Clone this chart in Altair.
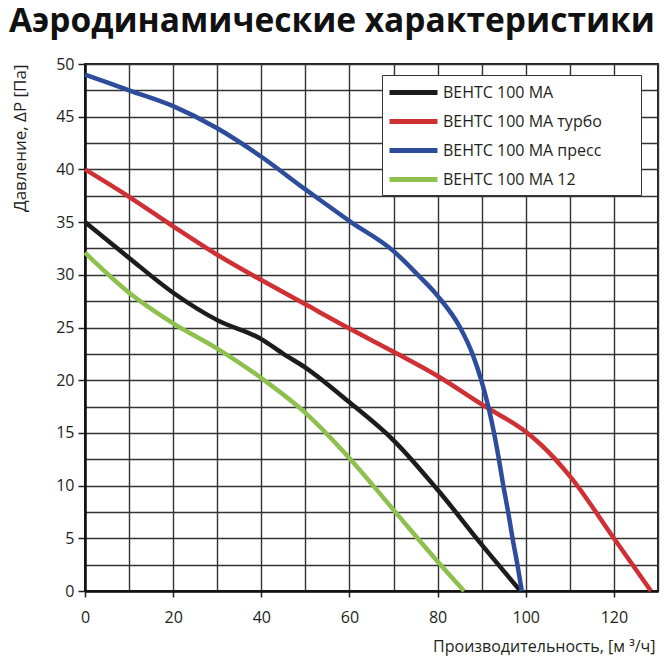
import altair as alt
import pandas as pd

series_names = ["ВЕНТС 100 МА", "ВЕНТС 100 МА турбо", "ВЕНТС 100 МА пресс", "ВЕНТС 100 МА 12"]
series_colors = ["#1c1c1c", "#cf3033", "#2d4d9c", "#8ec04e"]

flow_ma = [0, 10, 20, 30, 40, 45, 50, 60, 70, 80, 90, 98.8]
pres_ma = [35.0, 31.6, 28.3, 25.7, 23.9, 22.5, 21.2, 17.9, 14.3, 9.6, 4.4, 0.0]

flow_turbo = [0, 10, 20, 30, 40, 50, 60, 70, 80, 90, 100, 103.4, 110, 120, 128.4]
pres_turbo = [40.0, 37.4, 34.6, 31.9, 29.5, 27.2, 24.9, 22.7, 20.4, 17.7, 15.1, 13.9, 10.9, 5.0, 0.0]

flow_press = [0, 10, 20, 30, 40, 50, 55, 60, 70, 75.5, 80, 85.1, 87.9, 89.9, 91.5, 92.8, 93.9, 94.9, 96.0, 97.0, 98.1, 99.1]
pres_press = [49.0, 47.5, 46.0, 43.9, 41.2, 38.1, 36.6, 35.1, 32.25, 30.0, 28.0, 25.0, 22.5, 20.0, 17.5, 15.0, 12.5, 10.0, 7.5, 5.0, 2.5, 0.0]

flow_12 = [0, 10, 20, 30, 40, 50, 60, 70, 80, 86]
pres_12 = [32.1, 28.3, 25.4, 23.0, 20.2, 16.9, 12.6, 7.7, 2.8, 0.0]

x_ticks = list(range(0, 131, 10))
y_ticks = [i * 2.5 for i in range(0, 21)]

rows = []
for name, fx, py in zip(series_names,
                        [flow_ma, flow_turbo, flow_press, flow_12],
                        [pres_ma, pres_turbo, pres_press, pres_12]):
    for i, (a, b) in enumerate(zip(fx, py)):
        rows.append({"series": name, "flow": a, "pressure": b, "idx": i})
df = pd.DataFrame(rows)

FONT = "Open Sans"
TXT = "#231f20"

x_axis = alt.Axis(
    values=x_ticks,
    labelExpr="datum.value % 20 === 0 ? datum.label : ''",
    tickOpacity={"condition": {"test": "datum.value % 20 !== 0", "value": 0}, "value": 1},
    labelFlush=False, labelOverlap=False,
    labelFont=FONT, labelFontSize=16, labelColor=TXT, labelPadding=12,
    tickSize=6, tickWidth=1.5, tickColor=TXT,
    grid=True, gridColor="#333333", gridWidth=1.4, gridOpacity=1,
    domainColor="#111111", domainWidth=2.5,
    title="Производительность, [м ³/ч]",
    titleFont=FONT, titleFontSize=16, titleFontWeight="normal", titleColor=TXT,
    titleX=570, titleY=55, titleAlign="right", titleBaseline="middle",
)

y_axis = alt.Axis(
    values=y_ticks,
    labelExpr="datum.value % 5 === 0 ? datum.label : ''",
    tickOpacity={"condition": {"test": "datum.value % 5 !== 0", "value": 0}, "value": 1},
    labelFlush=False, labelOverlap=False,
    labelFont=FONT, labelFontSize=16, labelColor=TXT, labelPadding=4,
    tickSize=7, tickWidth=1.5, tickColor=TXT,
    grid=True, gridColor="#333333", gridWidth=1.4, gridOpacity=1,
    domainColor="#111111", domainWidth=2.5,
    title="Давление, ΔP [Па]",
    titleFont=FONT, titleFontSize=17, titleFontWeight="normal", titleColor=TXT,
    titleX=-65, titleY=0, titleAlign="right", titleBaseline="middle", titleAngle=270,
)

lines = alt.Chart(df).mark_line(strokeWidth=4.5, interpolate="monotone").encode(
    x=alt.X("flow:Q", scale=alt.Scale(domain=[0, 130], nice=False, zero=True), axis=x_axis),
    y=alt.Y("pressure:Q", scale=alt.Scale(domain=[0, 50], nice=False), axis=y_axis),
    color=alt.Color(
        "series:N",
        scale=alt.Scale(domain=series_names, range=series_colors),
        sort=series_names,
        legend=alt.Legend(
            title=None, orient="none", legendX=297, legendY=11,
            fillColor="white", strokeColor="#333333", padding=5,
            symbolType="M-1,0H3.8", symbolSize=400, symbolStrokeWidth=5,
            labelFont=FONT, labelFontSize=16, labelColor=TXT, labelOffset=31,
            rowPadding=6, labelLimit=400,
            labelExpr="datum.label + '\u00a0\u00a0\u00a0\u00a0\u00a0\u00a0\u00a0\u00a0\u200b'",
        ),
    ),
    order="idx:Q",
)

chart = alt.layer(lines).properties(
    width=573,
    height=527,
    title=alt.TitleParams(
        text="Аэродинамические характеристики",
        font=FONT, fontSize=33.5, fontWeight="bold", color="#111111",
        anchor="start", frame="group", dx=-76, dy=29, offset=20, baseline="alphabetic",
    ),
    autosize=alt.AutoSizeParams(type="none"),
    padding={"left": 77, "top": 56, "right": 2, "bottom": 66},
).configure_view(stroke="#222222", strokeWidth=2)

chart.save("out.html", embed_options={"renderer": "svg", "actions": False})
